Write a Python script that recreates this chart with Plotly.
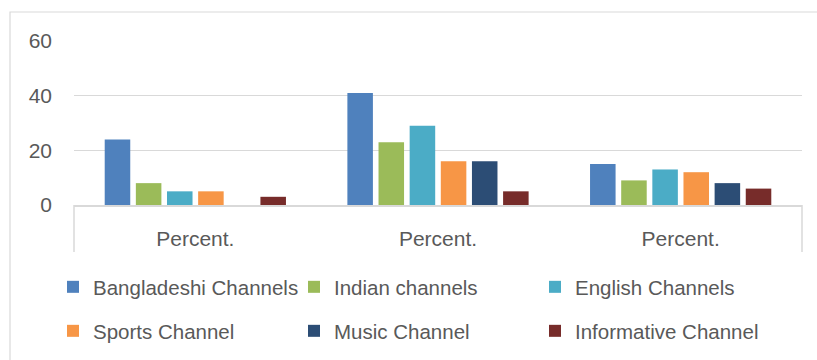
import plotly.graph_objects as go

# Category positions and their (identical) labels
cat_pos = [0, 1, 2]
cat_labels = ["Percent.", "Percent.", "Percent."]

# Share of viewers per channel type in each group
bangladeshi = [24, 41, 15]
indian = [8, 23, 9]
english = [5, 29, 13]
sports = [5, 16, 12]
music = [0, 16, 8]
informative = [3, 5, 6]

series = [
    ("Bangladeshi Channels", bangladeshi, "#4F81BD", "legend"),
    ("Indian channels", indian, "#9BBB59", "legend"),
    ("English Channels", english, "#4BACC6", "legend"),
    ("Sports Channel", sports, "#F79646", "legend2"),
    ("Music Channel", music, "#2C4D75", "legend2"),
    ("Informative Channel", informative, "#772C2A", "legend2"),
]

W, H = 817, 360
L, R, T, B = 74, 15, 41, 155
pw = W - L - R
ph = H - T - B

FONT = "Liberation Sans, Arial, sans-serif"
FS = 21
TXT = "#595959"
GRID = "#D9D9D9"

fig = go.Figure()
for name, vals, color, lg in series:
    fig.add_trace(go.Bar(
        x=cat_pos, y=vals, name=name, legend=lg,
        marker=dict(color=color, line=dict(width=0)),
    ))

def px_x(p):
    return (p - L) / pw

def px_y(p):
    return (H - B - p) / ph

legend_common = dict(
    orientation="h",
    entrywidth=196, entrywidthmode="pixels",
    font=dict(family=FONT, size=20.5, color=TXT),
    bgcolor="rgba(0,0,0,0)",
    xanchor="left", yanchor="middle",
    itemclick=False, itemdoubleclick=False,
    traceorder="normal",
)

fig.update_layout(
    width=W, height=H,
    margin=dict(l=L, r=R, t=T, b=B, autoexpand=False),
    paper_bgcolor="white", plot_bgcolor="white",
    barmode="group", bargap=0.23, bargroupgap=0.18,
    font=dict(family=FONT, size=FS, color=TXT),
    xaxis=dict(
        range=[-0.5, 2.5], tickmode="array", tickvals=cat_pos, ticktext=cat_labels,
        showgrid=False, showline=True, linecolor=GRID, linewidth=1.5,
        ticks="", ticklabelstandoff=14, zeroline=False,
        tickfont=dict(family=FONT, size=FS, color=TXT),
    ),
    yaxis=dict(
        range=[0, 60], tickvals=[0, 20, 40, 60],
        showgrid=True, gridcolor=GRID, gridwidth=1.3,
        zeroline=False, showline=False, ticks="", ticklabelstandoff=21,
        tickfont=dict(family=FONT, size=FS, color=TXT),
    ),
    legend=dict(x=px_x(53), y=px_y(287), **legend_common),
    legend2=dict(x=px_x(53), y=px_y(331), **legend_common),
    showlegend=True,
)

# Chart frame and the category axis end lines
fig.add_shape(type="rect", xref="paper", yref="paper",
              x0=px_x(10), x1=px_x(840), y0=px_y(380), y1=px_y(12),
              line=dict(color=GRID, width=1.2), fillcolor="rgba(0,0,0,0)", layer="below")
for xp in (L, W - R):
    fig.add_shape(type="line", xref="paper", yref="paper",
                  x0=px_x(xp), x1=px_x(xp), y0=px_y(H - B), y1=px_y(252),
                  line=dict(color=GRID, width=1.5))

fig.write_html("out.html")
